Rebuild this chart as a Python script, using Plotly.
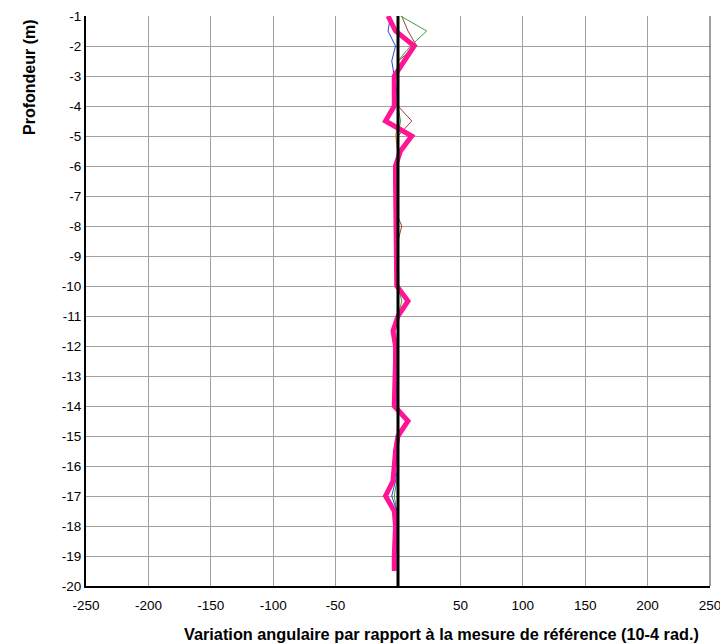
import plotly.graph_objects as go

depths = [-1 - 0.5 * i for i in range(38)]

magenta = [-8, -2, 13, 5, -3, -3, -3, -10, 11, 2, -2, -2, -2, -2, -2, -2, -2, -2,
           -1, 8, 0, -4, -2, -2, -2, -2, -3, 8, 0, -2, -3, -4, -10, -3, -2, -3, -3, -3]
blue = [-6, -8, -2, -5, -3, -1, 0, 0, 0, 0, 0, 0, 0, 0, 0, 0, 0, 0,
        0, 0, 0, 0, 0, 0, 0, 0, 0, 0, 0, 0, 0, -2, -5, -1, 0, 0, 0, 0]
green = [2, 23, 10, 0, 0, 0, 0, 2, 0, 0, 0, 0, 0, 0, 0, 0, 0, 0,
         0, 3, 0, 0, 0, 0, 0, 0, 0, 0, 0, 0, 0, -1, -3, -1, 0, 0, 0, 0]
brown = [3, 8, 15, 0, 0, 0, 0, 11, 0, 0, 0, 0, 0, -2, 3, 0, 0, 0,
         0, 0, 0, 0, 0, 0, 0, 0, 0, 0, 0, 0, 0, 0, 0, 0, 0, 0, 0, 0]
orange = [0, 0, 0, 0, 0, 0, 0, 0, -2, 0, 0, 0, 0, 0, 0, 0, 0, 0,
          0, 0, 0, 0, 0, 0, 0, 0, 0, 0, 0, 0, 0, 0, 0, 0, 0, 0, 0, 0]

x_ticks = [-250, -200, -150, -100, -50, 0, 50, 100, 150, 200, 250]
x_labels = ["-250", "-200", "-150", "-100", "-50", "", "50", "100", "150", "200", "250"]
y_ticks = [-1 - i for i in range(20)]
y_labels = [str(v) for v in y_ticks]

fig = go.Figure()
fig.add_trace(go.Scatter(x=orange, y=depths, mode="lines", line=dict(color="#e0a030", width=1)))
fig.add_trace(go.Scatter(x=brown, y=depths, mode="lines", line=dict(color="#a04030", width=1)))
fig.add_trace(go.Scatter(x=green, y=depths, mode="lines", line=dict(color="#40a040", width=1)))
fig.add_trace(go.Scatter(x=blue, y=depths, mode="lines", line=dict(color="#3040e0", width=1)))
fig.add_trace(go.Scatter(x=magenta, y=depths, mode="lines", line=dict(color="#ff1493", width=5)))
fig.add_trace(go.Scatter(x=[0, 0], y=[-1, -20], mode="lines", line=dict(color="black", width=3)))

font = "Liberation Sans, Arial, sans-serif"
fig.update_layout(
    width=720, height=644,
    margin=dict(l=86, r=10, t=16, b=58, autoexpand=False),
    plot_bgcolor="white", paper_bgcolor="white",
    showlegend=False,
    font=dict(family=font, size=13, color="black"),
    xaxis=dict(range=[-250, 250], tickvals=x_ticks, ticktext=x_labels,
               showgrid=True, gridcolor="#a0a0a0", gridwidth=1,
               zeroline=False, showline=True, linecolor="black", linewidth=2,
               mirror=False, ticks="", tickfont=dict(size=13.5),
               ticklabeloverflow="allow", automargin=False, ticklabelstandoff=6),
    yaxis=dict(range=[-20, -1], tickvals=y_ticks, ticktext=y_labels,
               showgrid=True, gridcolor="#a0a0a0", gridwidth=1,
               zeroline=False, showline=True, linecolor="black", linewidth=2,
               ticks="", tickfont=dict(size=13.5), automargin=False),
    shapes=[
        dict(type="line", xref="paper", yref="paper", x0=1, x1=1, y0=0, y1=1,
             line=dict(color="#404040", width=1)),
    ],
    annotations=[
        dict(text="<b>Profondeur (m)</b>", xref="paper", yref="paper",
             x=-0.0897, y=0.893, xanchor="center", yanchor="middle",
             textangle=-90, showarrow=False, font=dict(size=16)),
        dict(text="<b>Variation angulaire par rapport à la mesure de référence (10-4 rad.)</b>",
             xref="paper", yref="paper", x=0.569, y=-0.084, xanchor="center", yanchor="middle",
             showarrow=False, font=dict(size=16.3)),
    ],
)
fig.write_html("out.html")
